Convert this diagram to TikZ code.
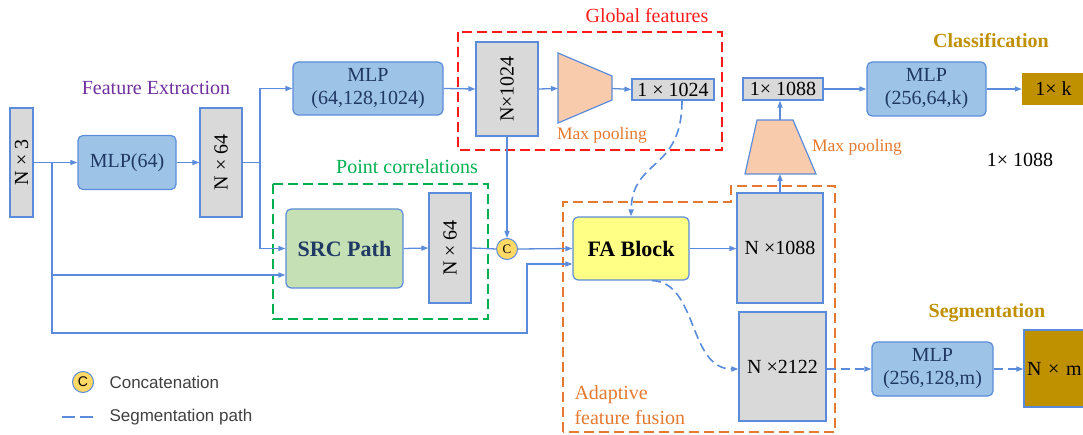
\documentclass[tikz,border=0pt]{standalone}
\usepackage{fontspec}
\setmainfont{Liberation Serif}
\newfontfamily\legendfont{Liberation Sans}
\usetikzlibrary{arrows.meta}

\definecolor{lineblue}{HTML}{5B8CDB}
\definecolor{boxgray}{HTML}{D9D9D9}
\definecolor{mlpfill}{HTML}{9DC3E6}
\definecolor{srcfill}{HTML}{C5E0B4}
\definecolor{fafill}{HTML}{FFFF85}
\definecolor{poolfill}{HTML}{F8CBAD}
\definecolor{concfill}{HTML}{FFD966}
\definecolor{outgold}{HTML}{BF9000}
\definecolor{navy}{HTML}{1F3864}
\definecolor{extrpurple}{HTML}{7030A0}
\definecolor{globred}{HTML}{FF1A1A}
\definecolor{corrgreen}{HTML}{00B050}
\definecolor{fuseorange}{HTML}{E5792F}
\definecolor{legendgray}{HTML}{404040}

\tikzset{
    featbox/.style={draw=lineblue, line width=1.2pt, fill=boxgray, inner sep=0pt},
    mlpbox/.style={draw=lineblue, line width=1.2pt, fill=mlpfill, rounded corners=5pt,
        align=center, text=navy, inner sep=0pt},
    link/.style={draw=lineblue, line width=1.3pt},
    flow/.style={link, -{Triangle[length=7pt,width=5pt]}},
    segflow/.style={flow, line width=1.6pt, dash pattern=on 9pt off 5pt},
    groupbox/.style={line width=1.8pt, dash pattern=on 10pt off 5pt},
    concat/.style={circle, draw=lineblue, line width=1pt, fill=concfill,
        minimum size=21pt, inner sep=0pt}
}

\begin{document}
\begin{tikzpicture}[x=1pt, y=-1pt, font=\fontsize{20}{23}\selectfont]
    \useasboundingbox (0,0) rectangle (1083,435);

    % Feature extraction
    \node[featbox, minimum width=23pt, minimum height=109pt] (n3) at (21.5,162.5) {\rotatebox{90}{N × 3}};
    \node[text=extrpurple] (fextr) at (156,88) {Feature Extraction};
    \node[mlpbox, minimum width=98pt, minimum height=54pt] (mlp64) at (127,162.5) {MLP(64)};
    \node[featbox, minimum width=42pt, minimum height=109pt] (n64) at (221,162.5) {\rotatebox{90}{N × 64}};

    % Global features
    \draw[globred, groupbox] (458,32) rectangle (722,150);
    \node[text=globred] (globlbl) at (647,16) {Global features};
    \node[mlpbox, minimum width=150pt, minimum height=53pt] (mlpg) at (368,88.5) {MLP\\(64,128,1024)};
    \node[featbox, minimum width=62pt, minimum height=94pt] (n1024) at (507,89) {\rotatebox{90}{N×1024}};
    \draw[draw=lineblue, line width=1.2pt, fill=poolfill] (558,53) -- (612,76) -- (612,100) -- (558,123) -- cycle;
    \coordinate (pool1in) at (558,88.5);
    \coordinate (pool1out) at (612,88.5);
    \node[text=fuseorange, font=\fontsize{17.5}{20}\selectfont] (mp1) at (602,135) {Max pooling};
    \node[featbox, minimum width=82pt, minimum height=21pt] (g1024) at (673,89.5) {1 × 1024};

    % Point correlations
    \draw[corrgreen, groupbox] (273,184) rectangle (488,319);
    \node[text=corrgreen] (corrlbl) at (407,167) {Point correlations};
    \node[draw=lineblue, line width=1.2pt, fill=srcfill, rounded corners=5pt, text=navy,
        font=\fontsize{22}{24}\selectfont\bfseries, minimum width=117pt, minimum height=79pt] (src) at (344.5,248.5) {SRC Path};
    \node[featbox, minimum width=42pt, minimum height=110pt] (n64b) at (450,248) {\rotatebox{90}{N × 64}};
    \node[concat, font=\fontsize{13}{13}\selectfont] (cc) at (507,249) {C};

    % Adaptive feature fusion
    \draw[fuseorange, groupbox] (563,432) -- (563,202) -- (731,202) -- (731,186) -- (835,186) -- (835,432) -- cycle;
    \node[text=fuseorange, align=left, anchor=west, font=\fontsize{20}{25}\selectfont] (fuselbl) at (571,405.5) {Adaptive\\feature fusion};
    \node[draw=lineblue, line width=1.2pt, fill=fafill, rounded corners=5pt,
        font=\fontsize{22}{24}\selectfont\bfseries, minimum width=116pt, minimum height=63pt] (fa) at (631,248.5) {FA Block};
    \node[featbox, minimum width=86pt, minimum height=110pt] (n1088) at (780,248) {N ×1088};
    \node[featbox, minimum width=87pt, minimum height=109pt] (n2122) at (782.5,366.5) {N ×2122};

    % Classification
    \draw[draw=lineblue, line width=1.2pt, fill=poolfill] (757,120) -- (793,120) -- (816,174) -- (745,174) -- cycle;
    \coordinate (pool2in) at (780,174);
    \coordinate (pool2out) at (780,120);
    \node[text=fuseorange, font=\fontsize{17.5}{20}\selectfont] (mp2) at (857,147) {Max pooling};
    \node[featbox, minimum width=80pt, minimum height=22pt] (g1088) at (783,89) {1× 1088};
    \node[mlpbox, minimum width=119pt, minimum height=54pt] (mlpc) at (926.5,89) {MLP\\(256,64,k)};
    \node[fill=outgold, minimum width=63pt, minimum height=32pt, inner sep=0pt] (outk) at (1053.5,89) {1× k};
    \node[text=outgold, font=\fontsize{20}{23}\selectfont\bfseries] (clslbl) at (991,41) {Classification};
    \node (clsdim) at (1020,160) {1× 1088};

    % Segmentation
    \node[text=outgold, font=\fontsize{20}{23}\selectfont\bfseries] (seglbl) at (987,313) {Segmentation};
    \node[mlpbox, minimum width=121pt, minimum height=54pt] (mlps) at (932.5,369) {MLP\\(256,128,m)};
    \node[draw=lineblue, line width=1.2pt, fill=outgold, minimum width=70pt, minimum height=77pt,
        text width=64pt, align=left, inner xsep=3pt] (outm) at (1059,368.5) {N × m};

    % Connectors
    \coordinate (br1) at (52,162.5);
    \coordinate (jog) at (527,333);
    \coordinate (br2) at (260,162.5);
    \draw[flow] (n3.east) -- (mlp64.west);
    \draw[flow] (br1) |- ([yshift=-26.5pt]src.west);
    \draw[flow] (br1) |- (jog) |- ([yshift=-15.5pt]fa.west);
    \draw[flow] (mlp64.east) -- (n64.west);
    \draw[link] (n64.east) -- (br2);
    \draw[flow] (br2) |- (mlpg.west);
    \draw[flow] (br2) |- (src.west);
    \draw[flow] (mlpg.east) -- (n1024.west);
    \draw[flow] (n1024.east) -- (pool1in);
    \draw[flow] (pool1out) -- (g1024.west);
    \draw[flow] (n1024.south) -- (cc.north);
    \draw[flow] (src.east) -- (n64b.west);
    \draw[link] (n64b.east) -- (cc.west);
    \draw[flow] (cc.east) -- (fa.west);
    \draw[segflow] ([xshift=9pt]g1024.south) .. controls (682,172) and (632,158) .. (fa.north);
    \draw[flow] (fa.east) -- (fa.east -| n1088.west);
    \draw[segflow] ([xshift=21pt]fa.south) .. controls (698,282) and (688,369) .. ([yshift=-2.5pt]n2122.west);
    \draw[flow] (n1088.north) -- (pool2in);
    \draw[flow] (pool2out) -- (pool2out |- g1088.south);
    \draw[flow] (g1088.east) -- (mlpc.west);
    \draw[flow] (mlpc.east) -- (outk.west);
    \draw[segflow] (n2122.east |- mlps.west) -- (mlps.west);
    \draw[segflow] (mlps.east) -- (mlps.east -| outm.west);

    % Legend
    \node[concat, font=\legendfont\fontsize{14}{14}\selectfont] (legc) at (83,382) {C};
    \node[anchor=west, text=legendgray, font=\legendfont\fontsize{17}{20}\selectfont] (legct) at (106,382) {Concatenation};
    \coordinate (legs) at (62,417);
    \coordinate (lege) at (93,417);
    \draw[link, line width=1.6pt, dash pattern=on 13pt off 5pt] (legs) -- (lege);
    \node[anchor=west, text=legendgray, font=\legendfont\fontsize{17}{20}\selectfont] (legst) at (106,417) {Segmentation path};
\end{tikzpicture}
\end{document}
